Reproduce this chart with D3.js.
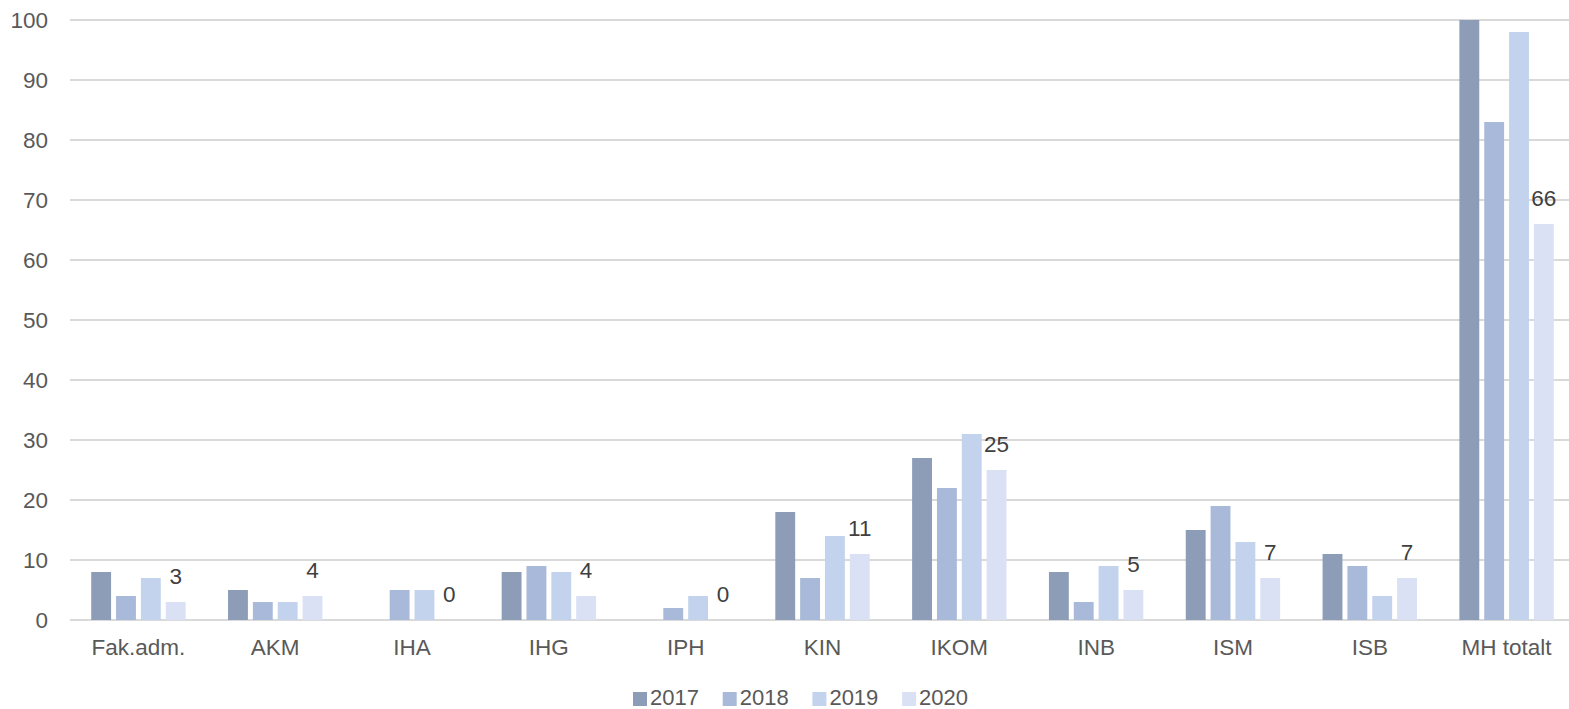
<!DOCTYPE html>
<html lang="no">
<head>
    <meta charset="UTF-8">
    <title>Chart</title>
    <script src="https://d3js.org/d3.v7.min.js"></script>
    <style>
        body { margin: 0; background: #ffffff; }
        .tick-text { font-family: "Liberation Sans", Arial, sans-serif; font-size: 22.5px; fill: #595959; }
        .value-label { font-family: "Liberation Sans", Arial, sans-serif; font-size: 22.5px; fill: #404040; }
        .legend-text { font-family: "Liberation Sans", Arial, sans-serif; font-size: 22px; fill: #595959; }
        .grid line { stroke: #d9d9d9; stroke-width: 2; }
    </style>
</head>
<body>
<div id="chart"></div>
<script>
    const categories = ["Fak.adm.", "AKM", "IHA", "IHG", "IPH", "KIN", "IKOM", "INB", "ISM", "ISB", "MH totalt"];
    const years = ["2017", "2018", "2019", "2020"];
    const values2017 = [8, 5, 0, 8, 0, 18, 27, 8, 15, 11, 100];
    const values2018 = [4, 3, 5, 9, 2, 7, 22, 3, 19, 9, 83];
    const values2019 = [7, 3, 5, 8, 4, 14, 31, 9, 13, 4, 98];
    const values2020 = [3, 4, 0, 4, 0, 11, 25, 5, 7, 7, 66];
    const yTicks = [0, 10, 20, 30, 40, 50, 60, 70, 80, 90, 100];
    const colors = ["#8e9db7", "#a9b9d9", "#c3d3ed", "#dae1f4"];

    const series = [values2017, values2018, values2019, values2020];

    const W = 1569, H = 709;
    const margin = { top: 20, right: 0, bottom: 89, left: 70 };
    const gridW = W - margin.left;
    const bandRange = 1505;
    const innerH = H - margin.top - margin.bottom;

    const svg = d3.select("#chart").append("svg")
        .attr("width", W).attr("height", H);

    const g = svg.append("g").attr("transform", `translate(${margin.left},${margin.top})`);

    const x0 = d3.scaleBand().domain(categories).range([0, bandRange])
        .paddingInner(0.31).paddingOuter(0.155);
    const x1 = d3.scaleBand().domain(years).range([0, x0.bandwidth()]).paddingInner(0.2).paddingOuter(0);
    const y = d3.scaleLinear().domain([0, 100]).range([innerH, 0]);
    const color = d3.scaleOrdinal().domain(years).range(colors);

    // grid
    g.append("g").attr("class", "grid")
        .selectAll("line").data(yTicks).join("line")
        .attr("x1", 0).attr("x2", gridW)
        .attr("y1", d => y(d)).attr("y2", d => y(d));

    // y axis labels
    g.append("g").selectAll("text").data(yTicks).join("text")
        .attr("class", "tick-text")
        .attr("x", -22).attr("y", d => y(d)).attr("dy", "0.35em")
        .attr("text-anchor", "end")
        .text(d => d);

    // bars
    const groups = g.append("g").selectAll("g").data(categories).join("g")
        .attr("transform", d => `translate(${x0(d)},0)`);

    groups.selectAll("rect")
        .data((c, i) => years.map((yr, k) => ({ yr, v: series[k][i] })))
        .join("rect")
        .attr("x", d => x1(d.yr))
        .attr("width", x1.bandwidth())
        .attr("y", d => y(d.v))
        .attr("height", d => innerH - y(d.v))
        .attr("fill", d => color(d.yr));

    // value labels for 2020
    groups.append("text")
        .attr("class", "value-label")
        .attr("text-anchor", "middle")
        .attr("x", x1("2020") + x1.bandwidth() / 2)
        .attr("y", (c, i) => y(values2020[i]) - 18)
        .text((c, i) => values2020[i]);

    // x labels
    g.append("g").selectAll("text").data(categories).join("text")
        .attr("class", "tick-text")
        .attr("text-anchor", "middle")
        .attr("x", d => x0(d) + x0.bandwidth() / 2)
        .attr("y", innerH + 35)
        .text(d => d);

    // legend
    const legend = svg.append("g").attr("transform", "translate(633,0)");
    const item = legend.selectAll("g").data(years).join("g")
        .attr("transform", (d, i) => `translate(${i * 89.7},0)`);
    item.append("rect")
        .attr("x", 0).attr("y", 692).attr("width", 14).attr("height", 14)
        .attr("fill", d => color(d));
    item.append("text")
        .attr("class", "legend-text")
        .attr("x", 17).attr("y", 705)
        .text(d => d);
</script>
</body>
</html>
